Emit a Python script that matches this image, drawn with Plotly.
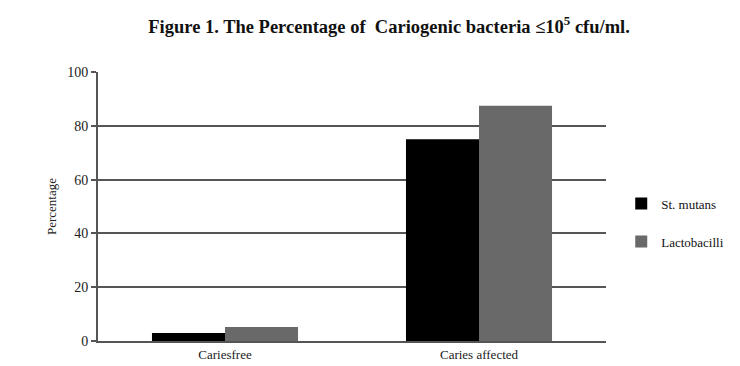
import plotly.graph_objects as go

categories = ["Cariesfree", "Caries affected"]
st_mutans = [3, 75]
lactobacilli = [5.2, 87.5]
series_names = ["St. mutans", "Lactobacilli"]
y_ticks = [0, 20, 40, 60, 80, 100]

font_family = "Liberation Serif, DejaVu Serif, serif"

fig = go.Figure()
fig.add_trace(go.Bar(x=categories, y=st_mutans, name=series_names[0], legendgroup="a",
                     marker=dict(color="#000000", line=dict(width=0))))
fig.add_trace(go.Bar(x=categories, y=lactobacilli, name=series_names[1], legendgroup="b",
                     marker=dict(color="#696969", line=dict(width=0))))

fig.update_layout(
    width=740, height=366,
    paper_bgcolor="white", plot_bgcolor="white",
    margin=dict(l=90, r=142, t=64, b=29),
    barmode="group", bargap=0.425, bargroupgap=0,
    font=dict(family=font_family, size=13, color="#222"),
    title=dict(text="<b>Figure 1. The Percentage of  Cariogenic bacteria ≤10<sup>5</sup> cfu/ml.</b>",
               x=0.515, xanchor="center", y=0.95, yanchor="middle",
               font=dict(family=font_family, size=18.5, color="#111")),
    legend=dict(x=1.03, y=0.44, xanchor="left", yanchor="middle",
                traceorder="grouped",
                font=dict(family=font_family, size=13, color="#111"),
                tracegroupgap=18, itemwidth=30),
    xaxis=dict(showline=True, linecolor="#555", linewidth=2, ticks="",
               tickfont=dict(size=13, color="#222"), showgrid=False),
    yaxis=dict(range=[0, 100], tickvals=y_ticks, showline=True, linecolor="#555",
               linewidth=2, ticks="outside", ticklen=5, tickcolor="#555",
               tickwidth=1.5, showgrid=True, gridcolor="#555", gridwidth=2,
               zeroline=False,
               title=dict(text="Percentage", font=dict(size=13, color="#222"), standoff=8),
               tickfont=dict(size=14, color="#222")),
)

fig.write_html("out.html")
